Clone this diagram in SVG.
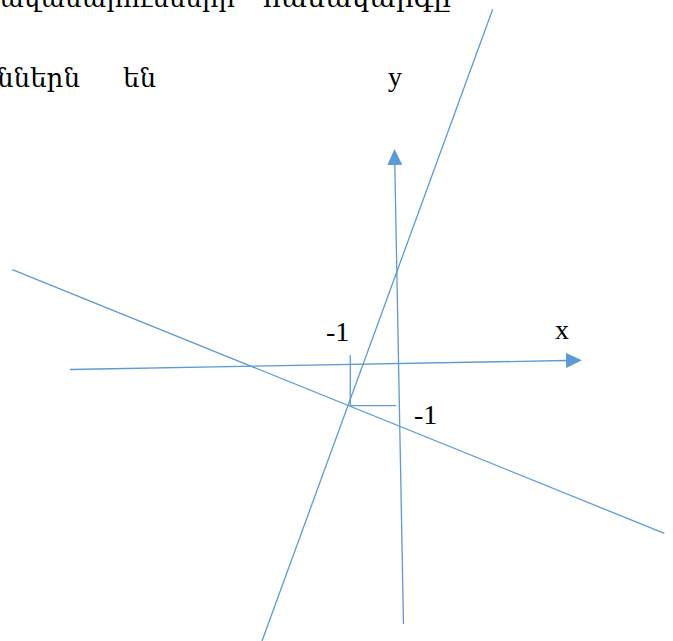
<svg xmlns="http://www.w3.org/2000/svg" width="673" height="641" viewBox="0 0 673 641">
  <style>
    .ln { stroke: #5B9BD5; stroke-width: 1.3; fill: none; }
    .lbl { font-family: 'Liberation Serif', 'Times New Roman', Times, serif; font-size: 28px; fill: #000; }
    .arm { font-family: 'DejaVu Serif', 'Liberation Serif', serif; font-size: 26px; fill: #000; }
  </style>
  <defs>
    <marker id="arrow" markerUnits="userSpaceOnUse" markerWidth="17" markerHeight="16" refX="0" refY="7.5" orient="auto">
      <path d="M0,0 L16,7.5 L0,15 Z" fill="#5B9BD5"/>
    </marker>
  </defs>
  <rect width="673" height="641" fill="#fff"/>
  <g id="text">
    <text class="arm" x="-17" y="6.5" textLength="252" lengthAdjust="spacingAndGlyphs">հավասարումների</text>
    <text class="arm" x="263" y="6.5" textLength="188" lengthAdjust="spacingAndGlyphs">համակարգը</text>
    <text class="arm" x="-3" y="87" textLength="83" lengthAdjust="spacingAndGlyphs">ններն</text>
    <text class="arm" x="123" y="87" textLength="33" lengthAdjust="spacingAndGlyphs">են</text>
  </g>
  <g id="connectors">
    <line id="x-axis" class="ln" x1="70" y1="369.5" x2="566" y2="360.5" marker-end="url(#arrow)"/>
    <line id="y-axis" class="ln" x1="403.5" y1="624" x2="394.8" y2="165" marker-end="url(#arrow)"/>
    <line id="line-a" class="ln" x1="492.7" y1="9.3" x2="262" y2="641"/>
    <line id="line-b" class="ln" x1="12.3" y1="269.7" x2="664.3" y2="533.3"/>
    <line class="ln" x1="350.3" y1="355.3" x2="350.3" y2="405.7"/>
    <line class="ln" x1="350.3" y1="405.7" x2="396" y2="405.7"/>
  </g>
  <g id="labels">
    <text class="lbl" x="388" y="86">y</text>
    <text class="lbl" x="555" y="339">x</text>
    <text class="lbl" x="326" y="340.5">-1</text>
    <text class="lbl" x="414" y="424">-1</text>
  </g>
</svg>
